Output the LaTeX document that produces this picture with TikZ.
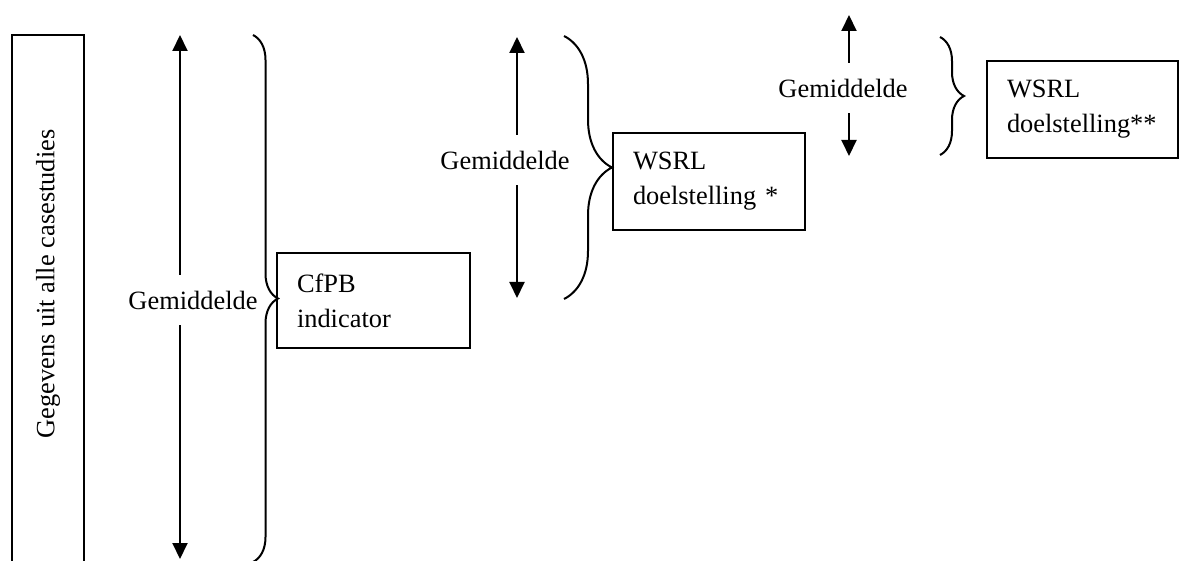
\documentclass[tikz,border=0pt]{standalone}
\usepackage{fontspec}
\setmainfont{Liberation Serif}
\usetikzlibrary{arrows.meta,decorations.pathreplacing}
\begin{document}
\begin{tikzpicture}
  [x=0.5pt,y=-0.5pt,line width=1pt,every node/.style={font=\fontsize{13.2}{17.5}\selectfont}]
  \tikzstyle{kader} = [draw,rectangle,anchor=north west,inner xsep=10pt,align=left]
  \tikzstyle{pijl} = [-{Triangle[width=7.5pt,length=8pt]}]
  \tikzstyle{label} = [inner xsep=0pt,inner ysep=7.5pt]
  \clip (0,0) rectangle (1179,561);

  % data
  \draw (12,35) rectangle (84,580);
  \node[rotate=90] (gegevens) at (48,284) {Gegevens uit alle casestudies};

  % boxes
  \node[kader,minimum width=96.5pt,minimum height=47.5pt,text width=76.5pt] (cfpb) at (276,252) {CfPB\\indicator};
  \node[kader,minimum width=96pt,minimum height=48.5pt,text width=76pt] (wsrl1) at (612,132) {WSRL\\doelstelling *};
  \node[kader,minimum width=95.5pt,minimum height=48.5pt,text width=75.5pt] (wsrl2) at (986,60) {WSRL\\doelstelling**};

  % averages
\foreach \i/\x/\top/\bot/\lx/\ly in {1/180/35/559/193/300,2/517/37/298/505/160,3/849/15/156/843/88} {
   \node[label] (gem\i) at (\lx,\ly) {Gemiddelde};
   \coordinate (boven\i) at (\x,\top);
   \coordinate (onder\i) at (\x,\bot);
   \draw[pijl] (boven\i |- gem\i.north) -- (boven\i);
   \draw[pijl] (onder\i |- gem\i.south) -- (onder\i);
}

  % braces
\foreach \x/\top/\bot/\amp in {253/35/562/12.5pt,564/36/299/24pt,940/37/155/12pt}
   \draw[decorate,decoration={brace,amplitude=\amp}] (\x,\top) -- (\x,\bot);

\end{tikzpicture}
\end{document}
